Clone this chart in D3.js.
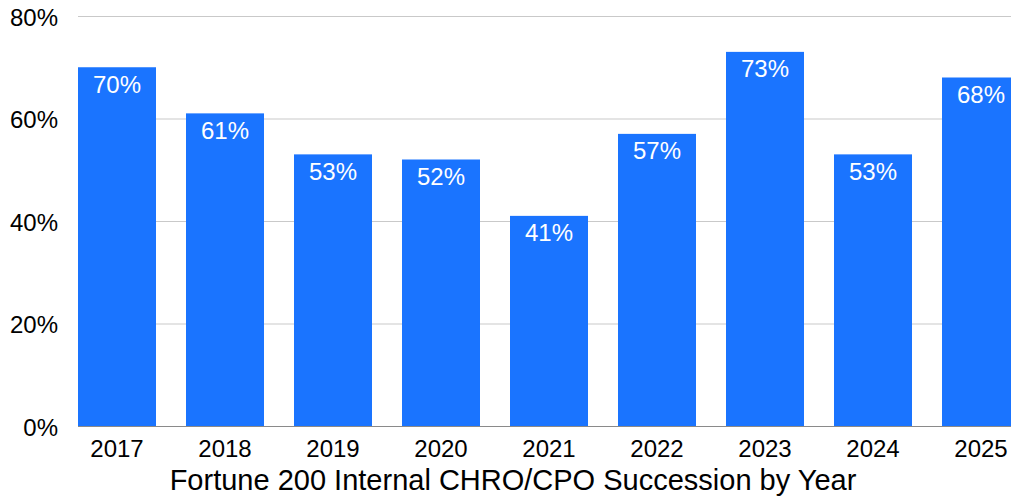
<!DOCTYPE html>
<html>
<head>
<meta charset="utf-8">
<script src="https://cdn.jsdelivr.net/npm/d3@7"></script>
<style>
  body { margin: 0; background: #fff; }
  svg { display: block; font-family: "Liberation Sans", Arial, Helvetica, sans-serif; }
</style>
</head>
<body>
<script>
// data
const years = ["2017", "2018", "2019", "2020", "2021", "2022", "2023", "2024", "2025"];
const internalPct = [70, 61, 53, 52, 41, 57, 73, 53, 68];
const yTicks = [0, 20, 40, 60, 80];
const axisTitle = "Fortune 200 Internal CHRO/CPO Succession by Year";

const W = 1011, H = 497;
const plotLeft = 78, plotTop = 16, plotBottom = 426;

let svg = d3.select("body").append("svg")
            .attr("width", W)
            .attr("height", H);

// scales
let x = d3.scaleBand()
          .domain(years)
          .range([63, 1035])
          .paddingInner(30 / 108)
          .paddingOuter(15 / 108);

let y = d3.scaleLinear()
          .domain([0, 80])
          .range([plotBottom, plotTop]);

// gridlines
svg.append("g")
   .selectAll("line")
   .data(yTicks.filter(d => d > 0))
   .enter()
   .append("line")
   .attr("x1", plotLeft)
   .attr("x2", W)
   .attr("y1", d => y(d) + 0.5)
   .attr("y2", d => y(d) + 0.5)
   .style("stroke", "#c9c9c9")
   .style("stroke-width", 1);

// y labels
svg.append("g")
   .selectAll("text")
   .data(yTicks)
   .enter()
   .append("text")
   .attr("x", 58)
   .attr("y", d => y(d) + 9.5)
   .attr("text-anchor", "end")
   .style("font-size", "24px")
   .style("fill", "#000")
   .text(d => d + "%");

// bars
let data = years.map((yr, i) => ({year: yr, value: internalPct[i]}));

svg.append("g")
   .selectAll("rect")
   .data(data)
   .enter()
   .append("rect")
   .attr("x", d => x(d.year))
   .attr("y", d => y(d.value))
   .attr("width", x.bandwidth())
   .attr("height", d => y(0) - y(d.value))
   .style("fill", "#1a74ff");

// baseline
svg.append("line")
   .attr("x1", plotLeft)
   .attr("x2", W)
   .attr("y1", plotBottom + 0.5)
   .attr("y2", plotBottom + 0.5)
   .style("stroke", "#8a8a8a")
   .style("stroke-width", 1);

// value labels
svg.append("g")
   .selectAll("text")
   .data(data)
   .enter()
   .append("text")
   .attr("x", d => x(d.year) + x.bandwidth() / 2)
   .attr("y", d => y(d.value) + 25.5)
   .attr("text-anchor", "middle")
   .style("font-size", "24px")
   .style("fill", "#fff")
   .text(d => d.value + "%");

// x labels
svg.append("g")
   .selectAll("text")
   .data(years)
   .enter()
   .append("text")
   .attr("x", d => x(d) + x.bandwidth() / 2)
   .attr("y", 457)
   .attr("text-anchor", "middle")
   .style("font-size", "24px")
   .style("fill", "#000")
   .text(d => d);

// axis title
svg.append("text")
   .attr("x", 513)
   .attr("y", 490)
   .attr("text-anchor", "middle")
   .style("font-size", "29px")
   .style("fill", "#000")
   .text(axisTitle);
</script>
</body>
</html>
